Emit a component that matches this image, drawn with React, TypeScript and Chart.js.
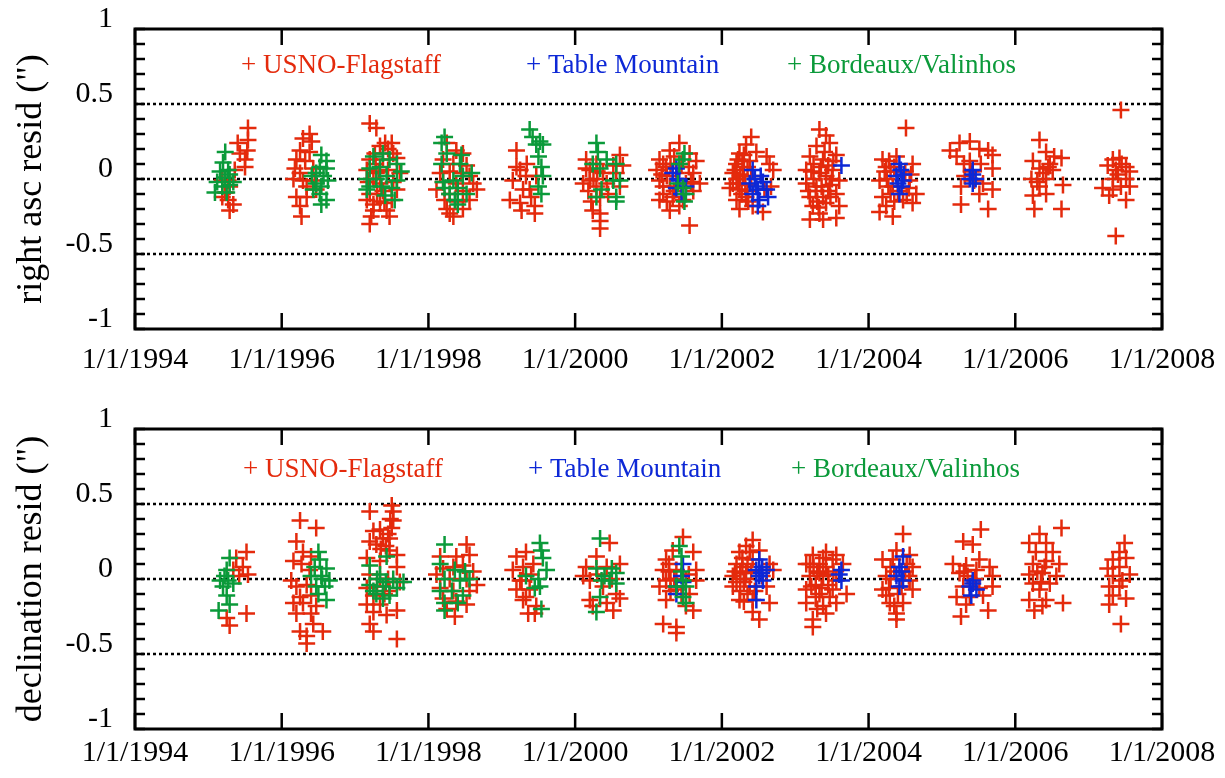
import { useEffect, useRef } from "react";
import { Chart, registerables } from "chart.js";
Chart.register(...registerables);

const X_TICKS = [1994, 1996, 1998, 2000, 2002, 2004, 2006, 2008];
const Y_TICKS = [-1, -0.5, 0, 0.5, 1];
const Y_REF_LINES = [-0.5, 0, 0.5];
const SERIES_LABELS = ["USNO-Flagstaff", "Table Mountain", "Bordeaux/Valinhos"];
const SERIES_COLORS = ["#e42a0c", "#0d28d6", "#0b9a3a"];
const PANEL_TITLES = ['right asc resid (")', 'declination resid (")'];

type P = [number, number];

const RA_USNO: P[] = [
  [1995.54,0.34],[1995.54,0.26],[1995.53,0.19],[1995.50,0.13],[1995.50,0.08],[1995.40,0.24],[1995.43,0.17],[1995.29,-0.05],[1995.27,-0.14],[1995.29,-0.21],[1995.34,-0.17],[1995.19,-0.12],[1995.23,-0.09],[1995.36,0.06],[1995.27,-0.01],[1995.19,-0.01],
  [1996.38,0.30],[1996.29,0.27],[1996.41,0.25],[1996.25,0.19],[1996.20,0.13],[1996.32,0.12],[1996.18,0.07],[1996.25,0.04],[1996.29,-0.01],[1996.16,0.00],[1996.34,-0.05],[1996.20,-0.12],[1996.34,-0.12],[1996.25,-0.18],[1996.27,-0.25],[1996.47,-0.07],[1996.43,0.07],[1996.38,0.18],[1996.45,-0.01],
  [1997.20,0.37],[1997.29,0.34],[1997.41,0.24],[1997.50,0.24],[1997.34,0.22],[1997.27,0.17],[1997.52,0.17],[1997.20,0.13],[1997.38,0.13],[1997.57,0.14],[1997.16,0.06],[1997.29,0.04],[1997.45,0.06],[1997.61,0.04],[1997.18,-0.02],[1997.34,-0.03],[1997.52,-0.02],[1997.20,-0.10],[1997.38,-0.08],[1997.57,-0.07],[1997.16,-0.14],[1997.34,-0.15],[1997.50,-0.14],[1997.25,-0.21],[1997.43,-0.21],[1997.22,-0.25],[1997.47,-0.25],[1997.20,-0.30],
  [1997.25,0.00],[1997.30,-0.10],[1997.40,-0.16],[1997.28,0.10],[1997.45,0.20],[1997.25,-0.17],[1997.33,0.05],
  [1998.25,0.24],[1998.38,0.19],[1998.47,0.17],[1998.20,0.13],[1998.34,0.10],[1998.52,0.09],[1998.16,0.04],[1998.29,0.05],[1998.45,0.04],[1998.56,0.02],[1998.20,-0.02],[1998.38,-0.03],[1998.61,-0.03],[1998.11,-0.07],[1998.29,-0.10],[1998.47,-0.08],[1998.66,-0.07],[1998.22,-0.14],[1998.40,-0.15],[1998.56,-0.14],[1998.25,-0.20],[1998.47,-0.20],[1998.34,-0.25],[1998.29,-0.23],
  [1999.20,0.19],[1999.25,0.06],[1999.15,-0.01],[1999.29,-0.07],[1999.11,-0.14],[1999.33,0.02],[1999.27,-0.21],[1999.34,0.10],[1999.38,-0.07],[1999.25,-0.16],[1999.45,-0.18],[1999.45,-0.23],[1999.47,0.02],[1999.20,0.08],[1999.40,-0.12],
  [2000.29,0.10],[2000.15,0.07],[2000.20,-0.01],[2000.11,-0.03],[2000.38,0.04],[2000.61,0.16],[2000.65,0.09],[2000.56,0.04],[2000.43,-0.03],[2000.34,-0.12],[2000.24,-0.21],[2000.34,-0.23],[2000.34,-0.28],[2000.34,-0.33],[2000.61,-0.05],[2000.20,0.06],[2000.52,0.09],[2000.29,-0.05],[2000.45,-0.10],[2000.22,-0.15],[2000.15,0.13],
  [2000.25,0.00],[2000.30,0.05],[2000.18,-0.08],
  [2001.15,0.13],[2001.29,0.19],[2001.42,0.24],[2001.56,0.17],[2001.65,0.12],[2001.11,0.06],[2001.24,0.08],[2001.38,0.04],[2001.61,0.04],[2001.15,-0.01],[2001.29,-0.05],[2001.51,-0.03],[2001.70,-0.03],[2001.20,-0.10],[2001.33,-0.12],[2001.47,-0.14],[2001.61,-0.08],[2001.29,-0.21],[2001.42,-0.18],[2001.15,-0.14],[2001.56,-0.31],[2001.20,0.10],[2001.45,0.10],[2001.35,0.15],
  [2001.25,0.02],[2001.20,-0.05],[2001.30,0.10],[2001.25,-0.15],[2001.55,0.08],[2001.58,-0.02],[2001.18,0.03],[2001.35,-0.08],
  [2002.40,0.28],[2002.33,0.23],[2002.24,0.17],[2002.47,0.18],[2002.61,0.15],[2002.20,0.10],[2002.38,0.12],[2002.65,0.10],[2002.15,0.04],[2002.29,0.02],[2002.70,0.06],[2002.15,-0.03],[2002.24,-0.07],[2002.11,-0.06],[2002.20,-0.14],[2002.33,-0.12],[2002.24,-0.20],[2002.56,-0.22],[2002.58,-0.07],[2002.67,-0.05],[2002.42,-0.18],[2002.30,0.06],[2002.20,0.00],
  [2002.28,0.12],[2002.35,0.08],[2002.25,0.03],[2002.32,-0.04],[2002.27,-0.10],[2002.36,-0.15],[2002.18,0.06],[2002.22,-0.03],[2002.40,0.02],[2002.35,-0.08],[2002.30,0.16],[2002.22,0.13],
  [2003.33,0.33],[2003.42,0.29],[2003.29,0.22],[2003.47,0.24],[2003.20,0.15],[2003.38,0.13],[2003.56,0.16],[2003.15,0.06],[2003.33,0.04],[2003.51,0.06],[2003.60,-0.01],[2003.15,-0.03],[2003.29,-0.05],[2003.47,-0.04],[2003.20,-0.12],[2003.38,-0.12],[2003.56,-0.10],[2003.24,-0.18],[2003.42,-0.16],[2003.60,-0.18],[2003.20,-0.27],[2003.38,-0.27],[2003.56,-0.26],[2003.33,-0.23],[2003.25,0.00],[2003.45,0.09],
  [2003.25,0.10],[2003.35,0.08],[2003.42,0.02],[2003.28,-0.08],[2003.36,-0.05],[2003.45,-0.08],[2003.30,-0.15],[2003.48,-0.12],[2003.40,0.18],[2003.22,0.05],[2003.50,0.00],[2003.32,-0.19],[2003.18,-0.08],[2003.52,0.12],
  [2004.51,0.34],[2004.19,0.13],[2004.24,0.08],[2004.38,0.15],[2004.60,0.10],[2004.15,-0.01],[2004.33,-0.05],[2004.56,-0.01],[2004.65,-0.10],[2004.19,-0.12],[2004.47,-0.14],[2004.24,-0.18],[2004.33,-0.25],[2004.60,-0.16],[2004.15,-0.22],[2004.30,0.05],[2004.50,0.05],[2004.40,-0.08],[2004.28,0.12],[2004.55,-0.06],
  [2004.25,0.00],[2004.35,0.08],[2004.30,-0.10],[2004.22,0.05],[2004.52,-0.10],[2004.35,-0.15],[2004.27,-0.05],[2004.58,0.03],
  [2005.11,0.19],[2005.24,0.24],[2005.38,0.25],[2005.51,0.20],[2005.63,0.19],[2005.69,0.16],[2005.20,0.15],[2005.38,0.12],[2005.53,0.10],[2005.69,0.07],[2005.31,0.02],[2005.44,-0.01],[2005.56,-0.03],[2005.69,-0.07],[2005.26,-0.05],[2005.51,-0.10],[2005.26,-0.17],[2005.63,-0.20],[2005.40,0.05],[2005.30,0.10],
  [2006.33,0.26],[2006.42,0.18],[2006.53,0.15],[2006.24,0.12],[2006.47,0.10],[2006.63,0.14],[2006.33,0.07],[2006.51,0.06],[2006.22,0.00],[2006.42,0.00],[2006.65,-0.04],[2006.24,-0.11],[2006.42,-0.10],[2006.26,-0.20],[2006.63,-0.20],[2006.33,-0.05],[2006.38,0.04],[2006.45,0.08],[2006.30,-0.02],
  [2007.44,0.46],[2007.33,0.13],[2007.42,0.14],[2007.51,0.08],[2007.26,0.09],[2007.37,0.06],[2007.56,0.05],[2007.33,0.00],[2007.51,0.00],[2007.19,-0.06],[2007.33,-0.07],[2007.44,-0.05],[2007.56,-0.05],[2007.28,-0.11],[2007.51,-0.14],[2007.37,-0.38],[2007.40,0.03],[2007.45,0.10],
];

const RA_TABLE: P[] = [
  [2001.33,0.04],[2001.38,0.07],[2001.42,-0.01],[2001.38,-0.06],[2001.51,-0.05],[2001.45,-0.10],[2001.40,0.00],
  [2002.42,0.06],[2002.45,0.00],[2002.38,-0.03],[2002.56,-0.02],[2002.49,-0.07],[2002.42,-0.10],[2002.61,-0.07],[2002.51,-0.14],[2002.49,-0.18],[2002.63,-0.12],[2002.47,-0.05],[2002.53,0.02],
  [2003.63,0.09],
  [2004.42,0.10],[2004.38,0.02],[2004.47,-0.01],[2004.45,-0.05],[2004.42,-0.10],[2004.40,-0.03],[2004.48,0.03],[2004.44,0.06],
  [2005.42,0.03],[2005.38,0.00],[2005.46,0.00],[2005.42,-0.03],[2005.42,0.06],
];

const RA_BORDEAUX: P[] = [
  [1995.23,0.18],[1995.20,0.11],[1995.27,0.06],[1995.16,0.05],[1995.12,-0.02],[1995.19,-0.05],[1995.25,-0.09],[1995.29,-0.04],[1995.09,-0.09],[1995.34,-0.02],[1995.23,0.01],[1995.29,0.03],
  [1996.54,0.16],[1996.61,0.12],[1996.52,0.08],[1996.61,0.07],[1996.47,0.04],[1996.57,0.02],[1996.41,0.02],[1996.63,-0.01],[1996.47,-0.03],[1996.54,-0.05],[1996.43,-0.07],[1996.52,-0.10],[1996.61,-0.14],[1996.54,-0.17],
  [1997.25,0.15],[1997.38,0.17],[1997.47,0.13],[1997.20,0.07],[1997.34,0.08],[1997.57,0.10],[1997.63,0.05],[1997.16,0.00],[1997.29,0.00],[1997.43,0.02],[1997.57,-0.01],[1997.20,-0.05],[1997.36,-0.05],[1997.50,-0.06],[1997.41,-0.11],[1997.54,-0.14],[1997.16,-0.07],
  [1998.22,0.28],[1998.18,0.24],[1998.25,0.17],[1998.45,0.16],[1998.18,0.10],[1998.43,0.10],[1998.20,-0.02],[1998.34,-0.01],[1998.47,0.02],[1998.59,0.04],[1998.40,-0.06],[1998.29,-0.10],[1998.52,-0.10],[1998.36,-0.14],[1998.40,-0.17],[1998.22,-0.06],
  [1999.38,0.33],[1999.52,0.25],[1999.56,0.23],[1999.47,0.23],[1999.54,0.08],[1999.56,0.02],[1999.50,-0.05],[1999.54,-0.10],[1999.42,0.28],[1999.50,0.15],
  [2000.29,0.24],[2000.31,0.18],[2000.24,0.10],[2000.34,0.07],[2000.43,0.13],[2000.56,0.10],[2000.61,-0.01],[2000.52,-0.01],[2000.36,-0.07],[2000.56,-0.12],[2000.29,-0.12],[2000.56,-0.15],
  [2001.49,0.17],[2001.47,0.13],[2001.42,0.10],[2001.40,-0.03],[2001.47,-0.06],[2001.51,-0.10],[2001.49,-0.15],
];

const DEC_USNO: P[] = [
  [1995.52,0.18],[1995.38,0.14],[1995.47,0.08],[1995.54,0.03],[1995.34,0.06],[1995.42,0.02],[1995.52,-0.23],[1995.29,-0.31],[1995.25,-0.26],
  [1996.25,0.39],[1996.47,0.34],[1996.20,0.25],[1996.29,0.18],[1996.40,0.15],[1996.16,0.12],[1996.27,0.10],[1996.38,0.06],[1996.13,-0.01],[1996.20,-0.05],[1996.34,-0.04],[1996.25,-0.12],[1996.40,-0.11],[1996.16,-0.16],[1996.29,-0.16],[1996.47,-0.18],[1996.20,-0.23],[1996.40,-0.23],[1996.25,-0.35],[1996.34,-0.38],[1996.56,-0.35],[1996.34,-0.43],[1996.43,-0.30],
  [1997.20,0.45],[1997.50,0.49],[1997.52,0.45],[1997.52,0.39],[1997.50,0.34],[1997.25,0.32],[1997.34,0.33],[1997.38,0.27],[1997.29,0.23],[1997.47,0.19],[1997.57,0.16],[1997.16,0.14],[1997.34,0.12],[1997.57,0.08],[1997.20,0.03],[1997.34,0.00],[1997.61,-0.02],[1997.16,-0.06],[1997.25,-0.11],[1997.47,-0.08],[1997.16,-0.17],[1997.34,-0.17],[1997.57,-0.21],[1997.25,-0.22],[1997.43,-0.24],[1997.20,-0.30],[1997.25,-0.35],[1997.57,-0.40],[1997.47,0.27],[1997.20,0.25],
  [1997.30,-0.05],[1997.40,-0.10],[1997.45,0.00],[1997.35,0.20],[1997.48,0.40],[1997.45,0.30],[1997.42,0.22],
  [1998.52,0.23],[1998.16,0.15],[1998.38,0.15],[1998.56,0.16],[1998.20,0.07],[1998.34,0.08],[1998.47,0.09],[1998.61,0.05],[1998.11,0.03],[1998.29,0.00],[1998.52,0.00],[1998.66,-0.04],[1998.16,-0.06],[1998.34,-0.08],[1998.56,-0.08],[1998.20,-0.13],[1998.38,-0.15],[1998.52,-0.17],[1998.25,-0.20],[1998.36,-0.25],
  [1999.20,0.15],[1999.29,0.08],[1999.15,0.06],[1999.27,-0.01],[1999.20,-0.07],[1999.33,-0.12],[1999.36,-0.23],[1999.33,0.18],[1999.43,0.10],[1999.38,-0.07],[1999.29,-0.14],[1999.47,-0.18],[1999.45,-0.23],[1999.25,-0.01],[1999.40,0.03],
  [2000.47,0.24],[2000.29,0.15],[2000.15,0.08],[2000.43,0.08],[2000.61,0.10],[2000.20,-0.01],[2000.11,0.02],[2000.38,-0.05],[2000.56,-0.10],[2000.20,-0.14],[2000.43,-0.16],[2000.24,-0.18],[2000.52,-0.21],[2000.61,-0.13],[2000.30,0.03],[2000.50,0.00],
  [2001.47,0.28],[2001.61,0.18],[2001.33,0.19],[2001.24,0.13],[2001.20,0.06],[2001.38,0.06],[2001.65,0.06],[2001.24,-0.01],[2001.51,-0.01],[2001.65,-0.01],[2001.15,-0.05],[2001.38,-0.07],[2001.56,-0.10],[2001.24,-0.14],[2001.51,-0.18],[2001.20,-0.30],[2001.38,-0.32],[2001.38,-0.36],[2001.61,-0.21],[2001.30,0.00],
  [2001.28,0.05],[2001.35,0.00],[2001.30,-0.08],[2001.55,0.03],[2001.28,0.10],[2001.45,-0.10],
  [2002.42,0.26],[2002.33,0.22],[2002.24,0.18],[2002.51,0.19],[2002.20,0.10],[2002.42,0.13],[2002.65,0.10],[2002.15,0.02],[2002.33,0.04],[2002.70,0.06],[2002.15,-0.05],[2002.38,-0.05],[2002.61,-0.05],[2002.24,-0.14],[2002.42,-0.14],[2002.65,-0.16],[2002.42,-0.22],[2002.51,-0.27],[2002.28,0.08],[2002.30,-0.02],[2002.55,0.02],
  [2002.28,0.14],[2002.35,0.10],[2002.25,0.04],[2002.32,0.00],[2002.25,-0.08],[2002.35,-0.10],[2002.20,-0.02],[2002.40,0.05],[2002.30,-0.15],[2002.38,0.18],[2002.18,0.05],[2002.45,-0.08],
  [2003.24,0.16],[2003.42,0.18],[2003.56,0.16],[2003.15,0.10],[2003.33,0.10],[2003.51,0.13],[2003.65,0.10],[2003.20,0.02],[2003.38,0.02],[2003.56,-0.01],[2003.15,-0.07],[2003.33,-0.10],[2003.51,-0.07],[2003.70,-0.10],[2003.15,-0.16],[2003.38,-0.18],[2003.56,-0.16],[2003.24,-0.27],[2003.24,-0.32],[2003.42,-0.23],[2003.30,0.05],[2003.45,-0.04],
  [2003.25,0.08],[2003.33,0.04],[2003.42,0.08],[2003.28,-0.04],[2003.36,-0.06],[2003.45,0.03],[2003.28,-0.12],[2003.47,-0.12],[2003.22,-0.05],[2003.38,0.14],[2003.30,-0.20],[2003.52,0.05],[2003.20,0.10],
  [2004.47,0.30],[2004.38,0.19],[2004.56,0.16],[2004.19,0.13],[2004.60,0.08],[2004.24,0.02],[2004.56,-0.01],[2004.19,-0.07],[2004.60,-0.07],[2004.29,-0.16],[2004.47,-0.16],[2004.38,-0.23],[2004.38,-0.27],[2004.24,-0.11],[2004.30,0.08],[2004.50,0.05],[2004.45,-0.05],
  [2004.30,0.00],[2004.35,0.05],[2004.28,-0.06],[2004.40,-0.10],[2004.52,0.10],[2004.33,0.13],[2004.35,-0.18],[2004.55,0.02],
  [2005.53,0.33],[2005.29,0.25],[2005.42,0.23],[2005.15,0.10],[2005.33,0.09],[2005.51,0.13],[2005.65,0.08],[2005.24,0.04],[2005.47,0.06],[2005.69,0.02],[2005.29,-0.05],[2005.51,-0.06],[2005.69,-0.05],[2005.20,-0.12],[2005.38,-0.12],[2005.56,-0.11],[2005.33,-0.17],[2005.63,-0.21],[2005.26,-0.25],
  [2005.35,0.02],[2005.45,0.00],[2005.30,0.05],
  [2006.63,0.34],[2006.33,0.30],[2006.19,0.24],[2006.42,0.24],[2006.28,0.18],[2006.51,0.18],[2006.24,0.10],[2006.42,0.12],[2006.60,0.10],[2006.19,0.03],[2006.37,0.04],[2006.56,0.02],[2006.24,-0.03],[2006.47,-0.03],[2006.33,-0.07],[2006.19,-0.14],[2006.42,-0.14],[2006.65,-0.16],[2006.26,-0.21],[2006.37,-0.18],
  [2006.30,0.05],[2006.35,-0.02],[2006.40,0.08],
  [2007.49,0.24],[2007.42,0.18],[2007.33,0.13],[2007.51,0.14],[2007.26,0.07],[2007.42,0.08],[2007.56,0.03],[2007.33,0.02],[2007.46,-0.01],[2007.28,-0.05],[2007.42,-0.05],[2007.33,-0.11],[2007.51,-0.13],[2007.28,-0.17],[2007.44,-0.30],
];

const DEC_TABLE: P[] = [
  [2001.47,0.10],[2001.45,0.02],[2001.38,-0.05],[2001.38,-0.10],[2001.47,-0.02],
  [2002.51,0.13],[2002.47,0.06],[2002.61,0.06],[2002.51,0.02],[2002.56,-0.01],[2002.47,-0.05],[2002.47,-0.14],[2002.55,0.08],[2002.54,0.04],
  [2003.63,0.06],[2003.63,-0.01],[2003.60,0.03],
  [2004.47,0.15],[2004.42,0.08],[2004.38,0.02],[2004.47,-0.01],[2004.42,-0.05],[2004.45,0.05],
  [2005.42,-0.01],[2005.38,-0.05],[2005.47,-0.07],[2005.40,-0.11],[2005.42,-0.03],
];

const DEC_BORDEAUX: P[] = [
  [1995.29,0.14],[1995.25,0.06],[1995.16,-0.01],[1995.27,-0.01],[1995.20,-0.05],[1995.25,-0.11],[1995.29,-0.17],[1995.14,-0.21],[1995.34,-0.03],[1995.22,0.02],
  [1996.50,0.18],[1996.52,0.13],[1996.45,0.08],[1996.61,0.07],[1996.40,0.02],[1996.54,0.02],[1996.65,-0.01],[1996.47,-0.05],[1996.59,-0.05],[1996.50,-0.10],[1996.61,-0.14],[1996.55,0.00],
  [1997.43,0.15],[1997.20,0.09],[1997.34,0.03],[1997.52,0.00],[1997.66,-0.02],[1997.20,-0.04],[1997.38,-0.05],[1997.57,-0.06],[1997.29,-0.10],[1997.47,-0.11],[1997.38,-0.13],[1997.25,-0.08],[1997.42,-0.02],[1997.30,0.00],
  [1998.22,0.23],[1998.16,0.10],[1998.36,0.06],[1998.50,0.05],[1998.22,0.00],[1998.43,-0.01],[1998.56,0.00],[1998.16,-0.08],[1998.32,-0.08],[1998.47,-0.11],[1998.22,-0.16],[1998.40,-0.16],[1998.22,-0.21],
  [1999.52,0.24],[1999.56,0.14],[1999.61,0.06],[1999.33,0.02],[1999.50,0.00],[1999.52,-0.05],[1999.45,-0.06],[1999.54,-0.20],[1999.54,0.19],
  [2000.34,0.27],[2000.29,0.07],[2000.36,-0.01],[2000.34,-0.12],[2000.29,-0.22],[2000.50,0.07],[2000.56,0.04],[2000.47,-0.01],[2000.56,-0.03],[2000.40,0.02],
  [2001.42,0.22],[2001.45,0.15],[2001.47,-0.01],[2001.38,-0.05],[2001.51,-0.05],[2001.47,-0.12],[2001.51,-0.16],[2001.45,0.05],
];

const FONT = '"Liberation Serif", "Times New Roman", serif';

const decorPlugin = {
  id: "decor",
  beforeDatasetsDraw(chart: any) {
    const { ctx, chartArea: a, scales } = chart;
    ctx.save();
    ctx.strokeStyle = "#000";
    ctx.lineWidth = 2.5;
    ctx.setLineDash([3, 3]);
    for (const v of Y_REF_LINES) {
      const py = Math.round(scales.y.getPixelForValue(v));
      ctx.beginPath();
      ctx.moveTo(a.left, py);
      ctx.lineTo(a.right, py);
      ctx.stroke();
    }
    ctx.restore();
  },
  afterDraw(chart: any, _args: any, opts: any) {
    const { ctx, chartArea: a, scales } = chart;
    ctx.save();
    ctx.strokeStyle = "#000";
    ctx.lineWidth = 2.5;
    for (let i = -10; i <= 10; i++) {
      const py = scales.y.getPixelForValue(i / 10);
      ctx.beginPath();
      ctx.moveTo(a.left, py);
      ctx.lineTo(a.left + 10, py);
      ctx.moveTo(a.right, py);
      ctx.lineTo(a.right - 10, py);
      ctx.stroke();
    }
    for (const v of X_TICKS) {
      const px = scales.x.getPixelForValue(v);
      ctx.beginPath();
      ctx.moveTo(px, a.bottom);
      ctx.lineTo(px, a.bottom - 16);
      ctx.moveTo(px, a.top);
      ctx.lineTo(px, a.top + 16);
      ctx.stroke();
    }
    ctx.lineWidth = 3;
    ctx.strokeRect(a.left, a.top, a.right - a.left, a.bottom - a.top);
    ctx.font = `27px ${FONT}`;
    ctx.textAlign = "left";
    ctx.textBaseline = "alphabetic";
    chart.data.datasets.forEach((ds: any, i: number) => {
      const pos = opts.positions[i];
      ctx.fillStyle = ds.borderColor;
      ctx.fillText("+ " + ds.label, pos[0], pos[1]);
    });
    ctx.restore();
  },
};

function clearPadding(s: any) {
  s.paddingTop = 0;
  s.paddingBottom = 0;
  s.paddingLeft = 0;
  s.paddingRight = 0;
}

function makeChart(canvas: HTMLCanvasElement, series: P[][], title: string, xAxisHeight: number, xLabelPad: number, positions: number[][]) {
  const datasets = series.map((pts, i) => ({
    label: SERIES_LABELS[i],
    data: pts.map(([x, y]) => ({ x, y })),
    borderColor: SERIES_COLORS[i],
    backgroundColor: SERIES_COLORS[i],
    pointStyle: "cross",
    pointRadius: 8.5,
    pointBorderWidth: 2.5,
    showLine: false,
    order: [3, 2, 1][i],
  }));
  return new Chart(canvas, {
    type: "scatter",
    data: { datasets },
    plugins: [decorPlugin],
    options: {
      animation: false,
      responsive: false,
      events: [],
      layout: { padding: { top: 29, right: 63, left: 0, bottom: 0 } },
      plugins: {
        legend: { display: false },
        tooltip: { enabled: false },
        decor: { positions },
      } as any,
      scales: {
        x: {
          type: "linear",
          min: 1994,
          max: 2008,
          grid: { display: false, drawTicks: false },
          border: { display: false },
          afterBuildTicks: (s: any) => { s.ticks = X_TICKS.map((v) => ({ value: v })); },
          afterFit: (s: any) => { s.height = xAxisHeight; clearPadding(s); },
          ticks: {
            padding: xLabelPad,
            autoSkip: false,
            maxRotation: 0,
            color: "#000",
            font: { family: FONT, size: 30 },
            callback: (v: any) => `1/1/${v}`,
          },
        },
        y: {
          type: "linear",
          min: -1,
          max: 1,
          grid: { display: false, drawTicks: false },
          border: { display: false },
          afterBuildTicks: (s: any) => { s.ticks = Y_TICKS.map((v) => ({ value: v })); },
          afterFit: (s: any) => { s.width = 135; clearPadding(s); },
          ticks: {
            padding: 22,
            labelOffset: -10,
            color: "#000",
            font: { family: FONT, size: 30 },
            callback: (v: any) => String(v),
          },
          title: {
            display: true,
            text: title,
            color: "#000",
            font: { family: FONT, size: 36, lineHeight: 1 },
            padding: { top: 14, bottom: 0 },
          },
        },
      },
    } as any,
  });
}

export default function App() {
  const topRef = useRef<HTMLCanvasElement>(null);
  const botRef = useRef<HTMLCanvasElement>(null);
  useEffect(() => {
    const c1 = makeChart(topRef.current!, [RA_USNO, RA_TABLE, RA_BORDEAUX], PANEL_TITLES[0], 71, 13,
      [[241, 73], [526, 73], [787, 73]]);
    const c2 = makeChart(botRef.current!, [DEC_USNO, DEC_TABLE, DEC_BORDEAUX], PANEL_TITLES[1], 49, 6,
      [[243, 77], [528, 77], [791, 77]]);
    return () => { c1.destroy(); c2.destroy(); };
  }, []);
  return (
    <div style={{ position: "fixed", left: 0, top: 0, width: 1225, height: 778, background: "#fff" }}>
      <canvas ref={topRef} width={1225} height={400} style={{ display: "block" }} />
      <canvas ref={botRef} width={1225} height={378} style={{ display: "block" }} />
    </div>
  );
}
